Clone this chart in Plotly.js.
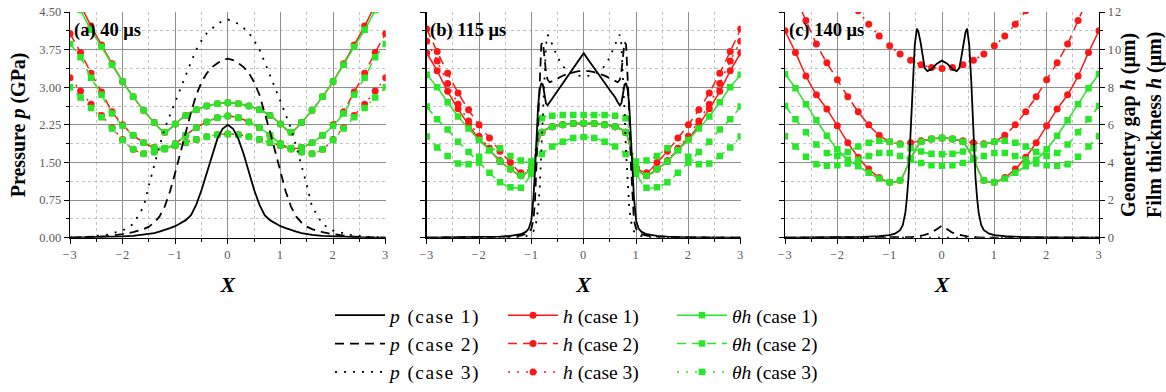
<!DOCTYPE html>
<html><head><meta charset="utf-8">
<script src="https://cdn.plot.ly/plotly-3.0.1.min.js"></script>
<style>
html,body{margin:0;padding:0;background:#fff}
#chart{width:1166px;height:392px}
.xaxislayer-above text,.yaxislayer-above text{letter-spacing:1px}
.legendtext{letter-spacing:1.4px}
</style>
</head><body><div id="chart"></div>
<script>
// ---------- data ----------
// x positions of the film-thickness samples (h and θh)
const xH = [-3,-2.8,-2.6,-2.4,-2.2,-2,-1.8,-1.6,-1.4,-1.2,-1,-0.8,-0.6,-0.4,-0.2,0,0.2,0.4,0.6,0.8,1,1.2,1.4,1.6,1.8,2,2.2,2.4,2.6,2.8,3];

// (a) 40 µs
const xPa = [-3,-2.6,-2.3,-2,-1.8,-1.6,-1.5,-1.4,-1.3,-1.2,-1.1,-1,-0.9,-0.8,-0.7,-0.6,-0.5,-0.4,-0.3,-0.2,-0.1,0,0.1,0.2,0.3,0.4,0.5,0.6,0.7,0.8,0.9,1,1.1,1.2,1.3,1.4,1.5,1.6,1.8,2,2.3,2.6,3];
const a_p1 = [0,0.005,0.01,0.025,0.035,0.055,0.07,0.09,0.12,0.15,0.19,0.23,0.29,0.35,0.45,0.66,0.95,1.3,1.67,1.97,2.17,2.25,2.17,1.97,1.67,1.3,0.95,0.66,0.45,0.35,0.29,0.23,0.19,0.15,0.12,0.09,0.07,0.055,0.035,0.025,0.01,0.005,0];
const a_p2 = [0,0.01,0.03,0.07,0.11,0.17,0.22,0.3,0.42,0.62,0.92,1.3,1.72,2.12,2.5,2.85,3.1,3.28,3.4,3.48,3.54,3.57,3.54,3.48,3.4,3.28,3.1,2.85,2.5,2.12,1.72,1.3,0.92,0.62,0.42,0.3,0.22,0.17,0.11,0.07,0.03,0.01,0];
const a_p3 = [0.003,0.02,0.06,0.14,0.27,0.62,1.05,1.45,1.82,2.18,2.45,2.72,2.98,3.25,3.5,3.75,3.93,4.08,4.18,4.26,4.32,4.35,4.32,4.26,4.18,4.08,3.93,3.75,3.5,3.25,2.98,2.72,2.45,2.18,1.82,1.45,1.05,0.62,0.27,0.14,0.06,0.02,0.003];
const a_h1 = [13.7,12.4,11.25,10.25,9.25,8.3,7.5,6.77,6.12,5.6,6.05,6.5,6.8,7,7.12,7.17,7.12,7,6.8,6.5,6.05,5.6,6.12,6.77,7.5,8.3,9.25,10.25,11.25,12.4,13.7];
const a_h2 = [10.85,9.85,8.75,7.75,6.7,6,5.45,5.05,4.8,4.75,5,5.45,5.85,6.15,6.38,6.47,6.38,6.15,5.85,5.45,5,4.75,4.8,5.05,5.45,6,6.7,7.75,8.75,9.85,10.85];
const a_h3 = [8.5,7.8,7.1,6.5,5.85,5.22,4.7,4.47,4.55,4.72,4.9,5.06,5.22,5.37,5.48,5.52,5.48,5.37,5.22,5.06,4.9,4.72,4.55,4.47,4.7,5.22,5.85,6.5,7.1,7.8,8.5];
const a_t1 = [13.3,12.1,11.05,10.15,9.2,8.3,7.5,6.77,6.12,5.6,6.05,6.5,6.8,7,7.12,7.17,7.12,7,6.8,6.5,6.05,5.6,6.12,6.77,7.5,8.3,9.2,10.15,11.05,12.1,13.3];
const a_t2 = [10.3,9.6,8.5,7.6,6.6,5.95,5.45,5.05,4.8,4.75,5,5.45,5.85,6.15,6.38,6.47,6.38,6.15,5.85,5.45,5,4.75,4.8,5.05,5.45,5.95,6.6,7.6,8.5,9.6,10.3];
const a_t3 = [8,7.45,6.9,6.4,5.8,5.2,4.7,4.47,4.55,4.72,4.9,5.06,5.22,5.37,5.48,5.52,5.48,5.37,5.22,5.06,4.9,4.72,4.55,4.47,4.7,5.2,5.8,6.4,6.9,7.45,8];

// (b) 115 µs
const xPb = [-3,-2.5,-2,-1.6,-1.4,-1.2,-1.1,-1.05,-1,-0.96,-0.93,-0.9,-0.87,-0.84,-0.81,-0.78,-0.75,-0.72,-0.69,-0.65,-0.6,-0.5,-0.4,-0.3,-0.2,-0.1,0,0.1,0.2,0.3,0.4,0.5,0.6,0.65,0.69,0.72,0.75,0.78,0.81,0.84,0.87,0.9,0.93,0.96,1,1.05,1.1,1.2,1.4,1.6,2,2.5,3];
const b_p1 = [0,0.003,0.008,0.02,0.035,0.07,0.12,0.18,0.35,0.8,1.35,2.1,2.65,2.95,3.08,3.05,2.85,2.68,2.64,2.7,2.8,2.94,3.09,3.24,3.39,3.53,3.68,3.53,3.39,3.24,3.09,2.94,2.8,2.7,2.64,2.68,2.85,3.05,3.08,2.95,2.65,2.1,1.35,0.8,0.35,0.18,0.12,0.07,0.035,0.02,0.008,0.003,0];
const b_p2 = [0,0.002,0.005,0.01,0.02,0.04,0.07,0.1,0.18,0.35,0.75,1.5,2.5,3.3,3.85,3.9,3.6,3.3,3.15,3.1,3.12,3.18,3.23,3.27,3.3,3.32,3.32,3.32,3.3,3.27,3.23,3.18,3.12,3.1,3.15,3.3,3.6,3.9,3.85,3.3,2.5,1.5,0.75,0.35,0.18,0.1,0.07,0.04,0.02,0.01,0.005,0.002,0];
const b_p3 = [0,0.001,0.003,0.005,0.008,0.01,0.03,0.05,0.08,0.13,0.2,0.35,0.6,1,1.7,2.5,3.3,3.85,4.05,3.98,3.85,3.6,3.42,3.32,3.26,3.23,3.22,3.23,3.26,3.32,3.42,3.6,3.85,3.98,4.05,3.85,3.3,2.5,1.7,1,0.6,0.35,0.2,0.13,0.08,0.05,0.03,0.01,0.008,0.005,0.003,0.001,0];
const b_h1 = [9.82,8.87,7.78,6.85,6,5.25,4.7,4.05,3.65,3.3,3.7,5.6,5.9,6,6.07,6.09,6.07,6,5.9,5.6,3.7,3.3,3.65,4.05,4.7,5.25,6,6.85,7.78,8.87,9.82];
const b_h2 = [11.1,9.9,8.75,7.7,6.8,6,5.3,4.6,4,3.45,3.75,5.6,5.9,6,6.07,6.09,6.07,6,5.9,5.6,3.75,3.45,4,4.6,5.3,6,6.8,7.7,8.75,9.9,11.1];
const b_h3 = [10.45,9.4,8.2,7.1,6.2,5.4,4.75,4.1,3.65,3.3,3.7,5.6,5.9,6,6.07,6.09,6.07,6,5.9,5.6,3.7,3.3,3.65,4.1,4.75,5.4,6.2,7.1,8.2,9.4,10.45];
const b_t1 = [8.66,8,7.2,6.45,5.8,5.2,4.65,4.05,3.65,3.3,3.7,5.6,5.9,6,6.07,6.09,6.07,6,5.9,5.6,3.7,3.3,3.65,4.05,4.65,5.2,5.8,6.45,7.2,8,8.66];
const b_t2 = [6.98,6.3,5.75,5.1,4.55,4,3.45,2.95,2.68,2.65,3.4,4.45,4.85,5.1,5.3,5.35,5.3,5.1,4.85,4.45,3.4,2.65,2.68,2.95,3.45,4,4.55,5.1,5.75,6.3,6.98];
const b_t3 = [5.38,4.8,4.35,3.95,3.9,4.3,4.65,4.75,4.35,4.1,4.05,6.35,6.48,6.52,6.53,6.53,6.53,6.52,6.48,6.35,4.05,4.1,4.35,4.75,4.65,4.3,3.9,3.95,4.35,4.8,5.38];

// (c) 140 µs
const xPc = [-3,-2.5,-2,-1.5,-1.2,-1,-0.9,-0.8,-0.75,-0.7,-0.67,-0.64,-0.6,-0.56,-0.52,-0.48,-0.45,-0.41,-0.37,-0.33,-0.28,-0.2,-0.1,0,0.1,0.2,0.28,0.33,0.37,0.41,0.45,0.48,0.52,0.56,0.6,0.64,0.67,0.7,0.75,0.8,0.9,1,1.2,1.5,2,2.5,3];
const c_p1 = [0,0.003,0.006,0.015,0.03,0.05,0.08,0.15,0.25,0.5,0.8,1.2,2.1,3.1,3.85,4.17,4.1,3.9,3.6,3.38,3.32,3.36,3.47,3.53,3.47,3.36,3.32,3.38,3.6,3.9,4.1,4.17,3.85,3.1,2.1,1.2,0.8,0.5,0.25,0.15,0.08,0.05,0.03,0.015,0.006,0.003,0];
const c_p2 = [0,0,0,0,0,0,0,0.002,0.003,0.005,0.007,0.01,0.013,0.016,0.02,0.025,0.03,0.038,0.045,0.055,0.07,0.1,0.17,0.24,0.17,0.1,0.07,0.055,0.045,0.038,0.03,0.025,0.02,0.016,0.013,0.01,0.007,0.005,0.003,0.002,0,0,0,0,0,0,0];
const c_p3 = [0,0,0,0,0,0.002,0.003,0.004,0.004,0.005,0.005,0.005,0.006,0.006,0.006,0.007,0.007,0.007,0.008,0.008,0.008,0.009,0.01,0.01,0.01,0.009,0.008,0.008,0.008,0.007,0.007,0.007,0.006,0.006,0.006,0.005,0.005,0.005,0.004,0.004,0.003,0.002,0,0,0,0,0];
const c_h1 = [11,9.85,8.6,7.6,6.84,5.95,5.05,4.28,3.65,3.2,2.95,3.05,4.2,5.1,5.25,5.3,5.25,5.1,4.2,3.05,2.95,3.2,3.65,4.28,5.05,5.95,6.84,7.6,8.6,9.85,11];
const c_h2 = [14.3,12.8,11.55,10.3,9.3,8.4,7.5,6.7,6,5.45,5.1,5,5.05,5.15,5.25,5.3,5.25,5.15,5.05,5,5.1,5.45,6,6.7,7.5,8.4,9.3,10.3,11.55,12.8,14.3];
const c_h3 = [19.8,18.4,17.1,15.9,14.8,13.8,12.9,12.07,11.35,10.73,10.2,9.77,9.43,9.2,9.05,9,9.05,9.2,9.43,9.77,10.2,10.73,11.35,12.07,12.9,13.8,14.8,15.9,17.1,18.4,19.8];
const c_t1 = [8.7,7.95,7.1,6.25,5.42,4.7,4.15,3.8,3.45,3.15,2.95,3.05,4.2,5.1,5.25,5.3,5.25,5.1,4.2,3.05,2.95,3.15,3.45,3.8,4.15,4.7,5.42,6.25,7.1,7.95,8.7];
const c_t2 = [7,6.3,5.6,4.95,4.5,4.35,4.55,4.85,5.05,5.15,5.1,4.95,4.75,4.58,4.47,4.44,4.47,4.58,4.75,4.95,5.1,5.15,5.05,4.85,4.55,4.35,4.5,4.95,5.6,6.3,7];
const c_t3 = [5.4,4.85,4.3,3.9,3.82,3.85,3.95,4.15,4.35,4.5,4.5,4.35,4.15,3.97,3.85,3.82,3.85,3.97,4.15,4.35,4.5,4.5,4.35,4.15,3.95,3.85,3.82,3.9,4.3,4.85,5.4];

const panelLabels = ['(a) 40 μs', '(b) 115 μs', '(c) 140 μs'];
const caseNames = ['case 1', 'case 2', 'case 3'];

// ---------- styling ----------
const SERIF = 'Liberation Serif, Times New Roman, serif';
const RED = 'rgb(255,22,22)';
const GREEN = 'rgb(40,230,40)';
const DASH = ['solid', '9px,6px', '2px,7px'];
const W = 1166, H = 392;

const panels = [
  {x:'x',  yh:'y',  yp:'y2', xP:xPa, p:[a_p1,a_p2,a_p3], h:[a_h1,a_h2,a_h3], t:[a_t1,a_t2,a_t3]},
  {x:'x2', yh:'y3', yp:'y4', xP:xPb, p:[b_p1,b_p2,b_p3], h:[b_h1,b_h2,b_h3], t:[b_t1,b_t2,b_t3]},
  {x:'x3', yh:'y5', yp:'y6', xP:xPc, p:[c_p1,c_p2,c_p3], h:[c_h1,c_h2,c_h3], t:[c_t1,c_t2,c_t3]}
];

const traces = [];
panels.forEach((P, pi) => {
  const first = pi === 0;
  for (let k = 0; k < 3; k++) {
    traces.push({type:'scatter', mode:'lines+markers', x:xH, y:P.h[k], xaxis:P.x, yaxis:P.yh,
      name:'<i>h</i> (' + caseNames[k] + ')', legend:'legend2', legendrank:k+1, showlegend:first,
      line:{color:RED, width:1.5, dash:DASH[k], shape:'spline', smoothing:0.7},
      marker:{symbol:'circle', size:7, color:RED}, hoverinfo:'skip'});
  }
  for (let k = 0; k < 3; k++) {
    traces.push({type:'scatter', mode:'lines+markers', x:xH, y:P.t[k], xaxis:P.x, yaxis:P.yh,
      name:'<i>θh</i> (' + caseNames[k] + ')', legend:'legend3', legendrank:k+1, showlegend:first,
      line:{color:GREEN, width:1.5, dash:DASH[k], shape:'spline', smoothing:0.7},
      marker:{symbol:'square', size:6.5, color:GREEN}, hoverinfo:'skip'});
  }
  for (let k = 0; k < 3; k++) {
    traces.push({type:'scatter', mode:'lines', x:P.xP, y:P.p[k], xaxis:P.x, yaxis:P.yp,
      name:'<i>p</i> (' + caseNames[k] + ')', legend:'legend', legendrank:k+1, showlegend:first,
      line:{color:'#000', width:1.8, dash:DASH[k]}, hoverinfo:'skip'});
  }
});

const xDom = [[70/W, 385.7/W], [426.7/W, 740.7/W], [785/W, 1099/W]];
const yDom = [1 - 237.7/H, 1 - 12/H];
const tickFont = {family:SERIF, size:12.5, color:'#5a5a5a'};
const GRID = '#8e8e8e', MINORGRID = '#c4c4c4';

function xAxis(i, anchor) {
  return {domain:xDom[i], anchor:anchor, range:[-3,3], tick0:0, dtick:1,
    ticks:'outside', ticklen:5, tickwidth:1, tickcolor:'#000',
    showline:true, linecolor:'#000', linewidth:1.3, zeroline:false,
    showgrid:true, gridcolor:GRID, gridwidth:1, tickfont:tickFont,
    minor:{dtick:0.5, ticks:'outside', ticklen:3, tickcolor:'#000', showgrid:true, gridcolor:MINORGRID, griddash:'dot', gridwidth:1},
    title:{text:'<b><i>X</i></b>', font:{family:SERIF, size:22, color:'#000'}, standoff:15},
    fixedrange:true};
}
function pAxis(xa, over, labels, title) {
  const ax = {domain:yDom, anchor:xa, overlaying:over, side:'left', range:[0,4.5], tick0:0, dtick:0.75, tickformat:'.2f',
    ticks:'outside', ticklen:5, tickwidth:1, tickcolor:'#000', showticklabels:labels,
    showline:true, linecolor:'#000', linewidth:1.3, zeroline:false,
    showgrid:true, gridcolor:GRID, gridwidth:1, tickfont:tickFont,
    minor:{dtick:0.375, ticks:'outside', ticklen:3, tickcolor:'#000', showgrid:true, gridcolor:MINORGRID, griddash:'dot', gridwidth:1},
    fixedrange:true};
  if (title) ax.title = {text:'<b>Pressure <i>p</i> (GPa)</b>', font:{family:SERIF, size:20, color:'#000'}, standoff:8};
  return ax;
}
function hHidden(xa) {
  return {domain:yDom, anchor:xa, range:[0,12], showticklabels:false, ticks:'', showgrid:false, showline:false, zeroline:false, fixedrange:true};
}

const legFont = {family:SERIF, size:19.5, color:'#000'};
const legBase = {orientation:'v', xref:'paper', yref:'paper', xanchor:'left', yanchor:'bottom', y:0,
  bgcolor:'rgba(0,0,0,0)', borderwidth:0, font:legFont, itemwidth:50, traceorder:'normal', tracegroupgap:0};

const annotations = panelLabels.map((t, i) => ({
  xref:['x','x2','x3'][i] + ' domain', yref:['y','y3','y5'][i] + ' domain',
  x:0.005, y:0.916, xanchor:'left', yanchor:'middle', showarrow:false,
  text:'<b>' + t + '</b>', font:{family:SERIF, size:18.5, color:'#000'}
}));

const layout = {
  width:W, height:H, margin:{l:0, r:0, t:0, b:0},
  paper_bgcolor:'#fff', plot_bgcolor:'#fff', showlegend:true,
  xaxis:xAxis(0,'y'), xaxis2:xAxis(1,'y3'), xaxis3:xAxis(2,'y5'),
  yaxis:hHidden('x'), yaxis2:pAxis('x','y',true,true),
  yaxis3:hHidden('x2'), yaxis4:pAxis('x2','y3',false,false),
  yaxis5:{domain:yDom, anchor:'x3', side:'right', range:[0,12], tick0:0, dtick:2,
    ticks:'outside', ticklen:5, tickwidth:1, tickcolor:'#000', showline:true, linecolor:'#000', linewidth:1.3,
    showgrid:false, zeroline:false, tickfont:tickFont,
    minor:{dtick:1, ticks:'outside', ticklen:3, tickcolor:'#000', showgrid:false},
    title:{text:'<b>Geometry gap <i>h</i> (μm)</b><br><b>Film thickness <i>h</i> (μm)</b>', font:{family:SERIF, size:20, color:'#000'}, standoff:4},
    fixedrange:true},
  yaxis6:pAxis('x3','y5',false,false),
  legend:Object.assign({}, legBase, {x:330/W}),
  legend2:Object.assign({}, legBase, {x:503/W}),
  legend3:Object.assign({}, legBase, {x:672/W}),
  annotations:annotations
};

Plotly.newPlot('chart', traces, layout, {displayModeBar:false, staticPlot:true});
</script>
</body></html>
